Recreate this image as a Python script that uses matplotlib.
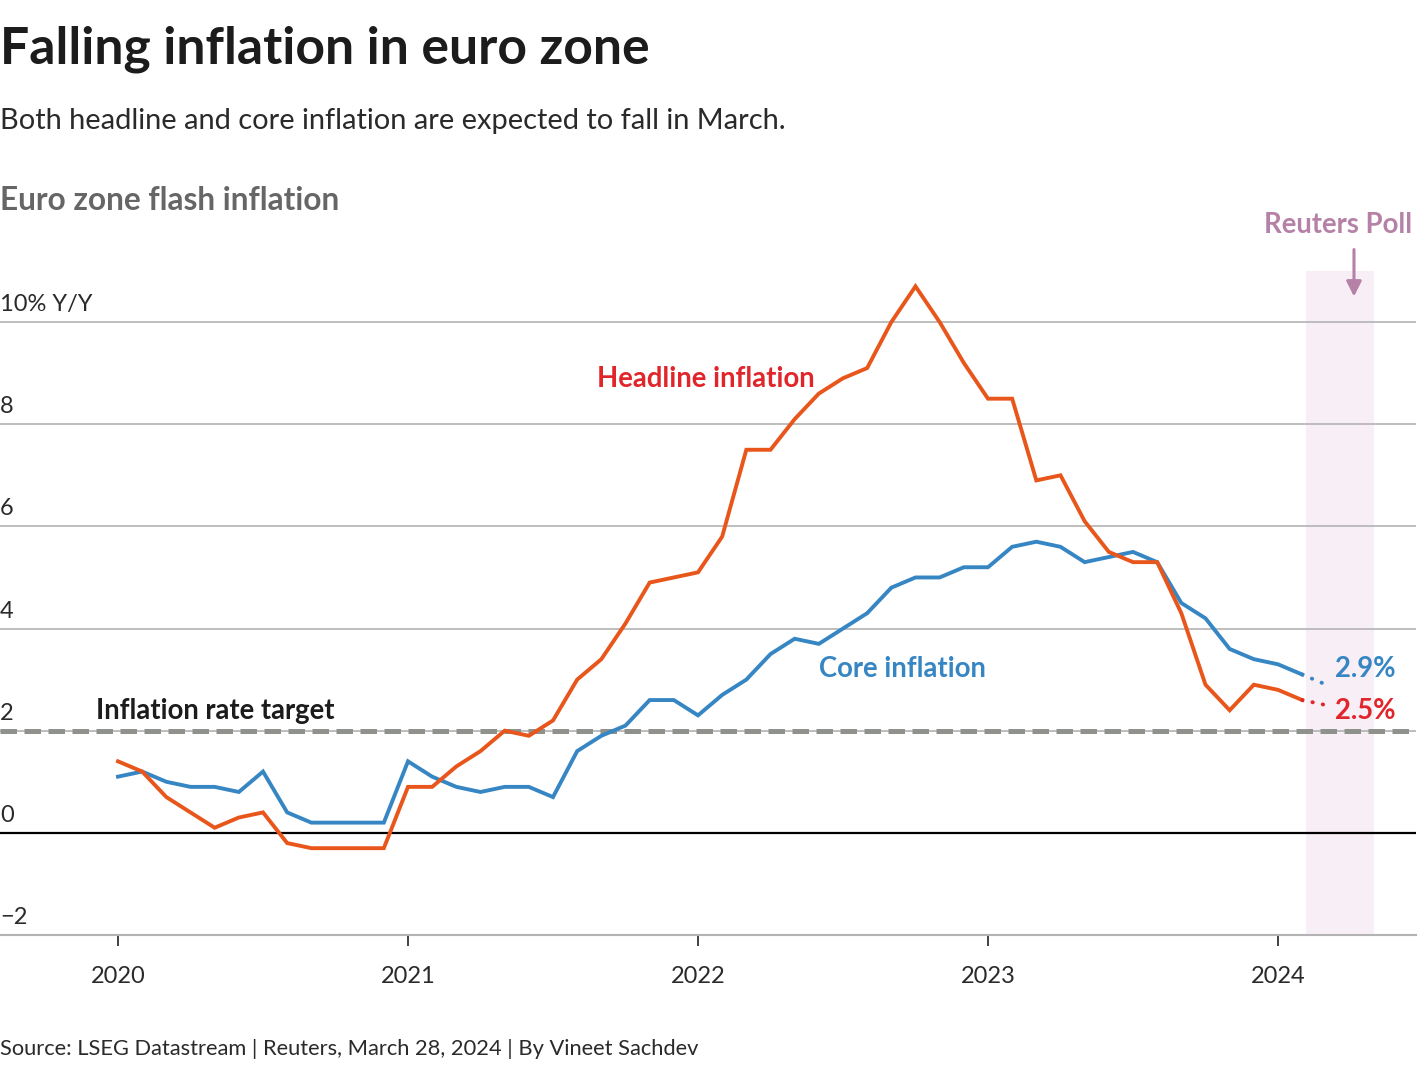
import matplotlib
matplotlib.use("Agg")
import matplotlib.pyplot as plt
import matplotlib.transforms as mtransforms
import numpy as np

# ---------------- data ----------------
start_year = 2020
headline = [1.4, 1.2, 0.7, 0.4, 0.1, 0.3, 0.4, -0.2, -0.3, -0.3, -0.3, -0.3,
            0.9, 0.9, 1.3, 1.6, 2.0, 1.9, 2.2, 3.0, 3.4, 4.1, 4.9, 5.0,
            5.1, 5.8, 7.5, 7.5, 8.1, 8.6, 8.9, 9.1, 10.0, 10.7, 10.0, 9.2,
            8.5, 8.5, 6.9, 7.0, 6.1, 5.5, 5.3, 5.3, 4.3, 2.9, 2.4, 2.9,
            2.8, 2.6]
core = [1.1, 1.2, 1.0, 0.9, 0.9, 0.8, 1.2, 0.4, 0.2, 0.2, 0.2, 0.2,
        1.4, 1.1, 0.9, 0.8, 0.9, 0.9, 0.7, 1.6, 1.9, 2.1, 2.6, 2.6,
        2.3, 2.7, 3.0, 3.5, 3.8, 3.7, 4.0, 4.3, 4.8, 5.0, 5.0, 5.2,
        5.2, 5.6, 5.7, 5.6, 5.3, 5.4, 5.5, 5.3, 4.5, 4.2, 3.6, 3.4,
        3.3, 3.1]
headline_poll = 2.5
core_poll = 2.9
target = 2.0
y_ticks = [-2, 0, 2, 4, 6, 8, 10]
y_tick_labels = ["\u22122", "0", "2", "4", "6", "8", "10% Y/Y"]
x_ticks = [2020, 2021, 2022, 2023, 2024]
x_tick_labels = ["2020", "2021", "2022", "2023", "2024"]
poll_band = (2024.095, 2024.33)

# ---------------- style ----------------
FONT = "Lato"
plt.rcParams["font.family"] = [FONT, "DejaVu Sans"]
ORANGE = "#e8561c"
RED = "#e0262b"
BLUE = "#3786c4"
MAUVE = "#b581a6"
GRID = "#b3b3b3"
DARK = "#1c1c1c"
TXT = "#2a2a2a"

W, H = 1420, 1070
fig = plt.figure(figsize=(W / 100, H / 100), dpi=100)

def fx(px):
    return px / W

def fy(py):
    return 1 - py / H

x_left_px, x_right_px = 0, 1416
y_top_px, y_bot_px = 271, 935
ax = fig.add_axes([fx(x_left_px), fy(y_bot_px),
                   fx(x_right_px - x_left_px), (y_bot_px - y_top_px) / H])

px_per_year = 290.0
x0 = 2020 - (118 - x_left_px) / px_per_year
x1 = 2020 + (x_right_px - 118) / px_per_year
ax.set_xlim(x0, x1)
ax.set_ylim(-2, 11)

n = len(headline)
x = start_year + np.arange(n) / 12.0
x_poll = start_year + n / 12.0

# poll band
ax.axvspan(poll_band[0], poll_band[1], color="#f8eef6", zorder=0, lw=0)

# gridlines
for v in y_ticks:
    if v in (-2, 0):
        continue
    ax.axhline(v, color=GRID, lw=1.2, zorder=1)
ax.axhline(0, color="black", lw=1.6, zorder=2)

# target line
ax.axhline(target, color="#8f918d", lw=3.6, linestyle=(0, (3.3, 1.5)), zorder=2)

# lines
ax.plot(x, core, color=BLUE, lw=2.8, zorder=4, solid_joinstyle="miter")
ax.plot(x, headline, color=ORANGE, lw=2.8, zorder=5, solid_joinstyle="miter")
ax.plot([x[-1], x_poll], [core[-1], core_poll], color=BLUE, lw=2.8,
        linestyle=(0, (0.1, 2.6)), dash_capstyle="round", zorder=4)
ax.plot([x[-1], x_poll], [headline[-1], headline_poll], color=RED, lw=2.8,
        linestyle=(0, (0.1, 2.6)), dash_capstyle="round", zorder=5)

# spines / ticks
for s in ["top", "right", "left"]:
    ax.spines[s].set_visible(False)
ax.spines["bottom"].set_color(GRID)
ax.spines["bottom"].set_linewidth(1.5)
ax.set_xticks(x_ticks)
ax.set_xticklabels(x_tick_labels)
ax.tick_params(axis="x", length=8, width=1.3, color="#333333", pad=14,
               labelsize=17, labelcolor=TXT)
ax.set_yticks([])

blend = mtransforms.blended_transform_factory(ax.transAxes, ax.transData)
for v, lab in zip(y_ticks, y_tick_labels):
    ax.annotate(lab, xy=(0.0, v), xycoords=blend, xytext=(0, 5),
                textcoords="offset points", ha="left", va="bottom",
                fontsize=17, color=TXT, annotation_clip=False)

# annotations in data coords
LBL = 19.8
ax.text(2021.652, 8.88, "Headline inflation", color=RED, fontsize=LBL,
        fontweight="bold", ha="left", va="center", zorder=6)
ax.text(2022.417, 3.21, "Core inflation", color=BLUE, fontsize=LBL,
        fontweight="bold", ha="left", va="center", zorder=6)
ax.text(2019.924, 2.39, "Inflation rate target", color=DARK, fontsize=LBL,
        fontweight="bold", ha="left", va="center", zorder=6)
ax.text(2024.197, 3.21, f"{core_poll}%", color=BLUE, fontsize=LBL,
        fontweight="bold", ha="left", va="center", zorder=6)
ax.text(2024.197, 2.39, f"{headline_poll}%", color=RED, fontsize=LBL,
        fontweight="bold", ha="left", va="center", zorder=6)

# Reuters poll arrow
arrow_x = 2024.262
ax.annotate("", xy=(arrow_x, 10.5), xytext=(arrow_x, 11.42),
            arrowprops=dict(arrowstyle="-|>,head_length=0.9,head_width=0.45",
                            color=MAUVE, lw=2.2, shrinkA=0, shrinkB=0),
            annotation_clip=False)
fig.text(fx(1412), fy(225), "Reuters Poll", color=MAUVE, fontsize=19.8,
         fontweight="bold", ha="right", va="center")

# titles
fig.text(fx(0), fy(49), "Falling inflation in euro zone", color=DARK,
         fontsize=37.2, fontweight="bold", ha="left", va="center")
fig.text(fx(0), fy(121), "Both headline and core inflation are expected to fall in March.",
         color=TXT, fontsize=20.9, ha="left", va="center")
fig.text(fx(0), fy(201), "Euro zone flash inflation", color="#666666",
         fontsize=22.8, fontweight="bold", ha="left", va="center")
fig.text(fx(0), fy(1049), "Source: LSEG Datastream | Reuters, March 28, 2024 | By Vineet Sachdev",
         color=TXT, fontsize=15.75, ha="left", va="center")

fig.savefig("out.png", dpi=100, facecolor="white")
